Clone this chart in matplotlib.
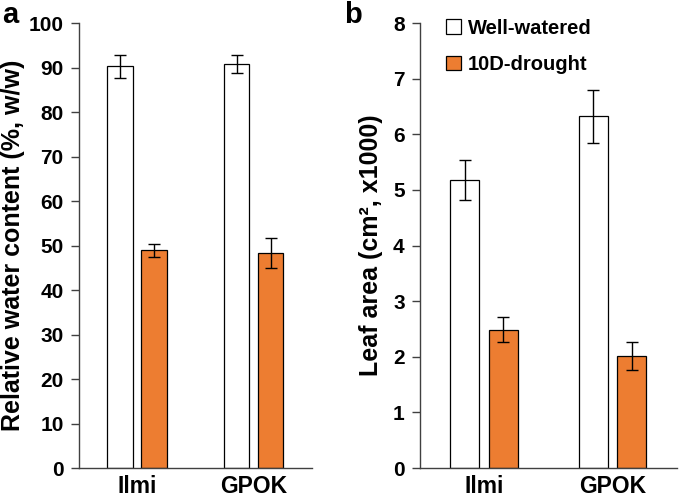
import numpy as np
import matplotlib.pyplot as plt

plt.rcParams['font.family'] = ['Liberation Sans', 'DejaVu Sans']
plt.rcParams['font.weight'] = 'bold'

# Data
genotypes = ["Ilmi", "GPOK"]
series_names = ["Well-watered", "10D-drought"]

rwc_well = [90.3, 90.8]
rwc_well_err = [2.6, 2.1]
rwc_drought = [48.9, 48.4]
rwc_drought_err = [1.4, 3.4]

leaf_well = [5.17, 6.32]
leaf_well_err = [0.36, 0.47]
leaf_drought = [2.49, 2.02]
leaf_drought_err = [0.22, 0.25]

orange = "#ED7D31"

fig = plt.figure(figsize=(6.85, 4.98), dpi=100)
ax1 = fig.add_axes([0.1153, 0.0602, 0.340, 0.8936])
ax2 = fig.add_axes([0.613, 0.0602, 0.375, 0.8936])

def draw_panel(ax, well, well_err, drought, drought_err, width, offset):
    x = np.arange(len(genotypes))
    ax.bar(x - offset, well, width, yerr=well_err, color="white", edgecolor="black",
           linewidth=0.9, capsize=4, error_kw=dict(elinewidth=1.0, capthick=1.0),
           label=series_names[0])
    ax.bar(x + offset, drought, width, yerr=drought_err, color=orange, edgecolor="black",
           linewidth=0.9, capsize=4, error_kw=dict(elinewidth=1.0, capthick=1.0),
           label=series_names[1])
    ax.set_xlim(-0.5, 1.5)
    ax.set_xticks(x)
    ax.set_xticklabels(genotypes, fontsize=16.5, fontweight="bold")
    ax.tick_params(axis="x", length=0, pad=5)
    ax.tick_params(axis="y", labelsize=15, length=6, width=1, color="#404040",
                   direction="out", pad=5)
    for lbl in ax.get_yticklabels():
        lbl.set_fontweight("bold")
    for side in ["top", "right"]:
        ax.spines[side].set_visible(False)
    for side in ["left", "bottom"]:
        ax.spines[side].set_color("#404040")
        ax.spines[side].set_linewidth(1.0)

draw_panel(ax1, rwc_well, rwc_well_err, rwc_drought, rwc_drought_err, 0.22, 0.146)
ax1.set_ylim(0, 100)
ax1.set_yticks(range(0, 101, 10))
ax1.set_ylabel("Relative water content (%, w/w)", fontsize=18, fontweight="bold", labelpad=3)

draw_panel(ax2, leaf_well, leaf_well_err, leaf_drought, leaf_drought_err, 0.225, 0.15)
ax2.set_ylim(0, 8)
ax2.set_yticks(range(0, 9))
ax2.set_ylabel("Leaf area (cm\u00b2, x1000)", fontsize=18, fontweight="bold", labelpad=7)

leg = ax2.legend(loc="upper left", bbox_to_anchor=(0.031, 1.05), frameon=False,
                 prop={"size": 14.5, "weight": "bold"}, handlelength=0.75, handleheight=0.75,
                 handletextpad=0.35, labelspacing=0.85)

fig.text(0.003, 0.998, "a", fontsize=21, fontweight="bold", va="top", ha="left")
fig.text(0.503, 0.998, "b", fontsize=21, fontweight="bold", va="top", ha="left")

fig.savefig("out.png", dpi=100)
